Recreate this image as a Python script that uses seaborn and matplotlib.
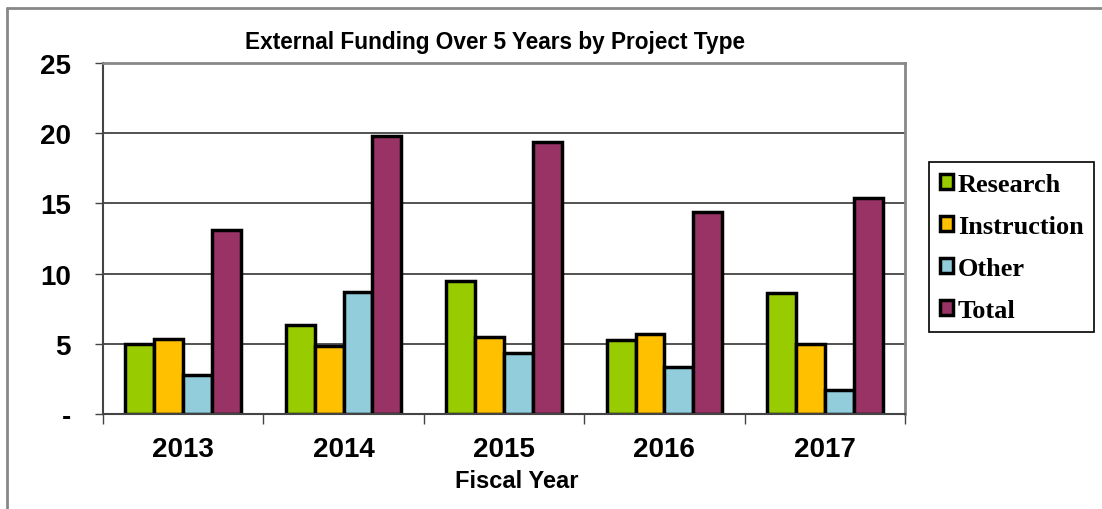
import pandas as pd
import matplotlib.pyplot as plt
import seaborn as sns
from matplotlib.lines import Line2D

# Chart data
years = ["2013", "2014", "2015", "2016", "2017"]
types = ["Research", "Instruction", "Other", "Total"]
research = [4.96, 6.32, 9.47, 5.30, 8.60]
instruction = [5.32, 4.82, 5.49, 5.70, 4.99]
other = [2.76, 8.67, 4.37, 3.35, 1.71]
total = [13.10, 19.83, 19.40, 14.37, 15.41]
colors = ["#99CC00", "#FFC000", "#92CDDC", "#993366"]
y_ticks = [0, 5, 10, 15, 20, 25]
y_labels = ["-", "5", "10", "15", "20", "25"]

df = pd.DataFrame({
    "Fiscal Year": years * 4,
    "Type": [t for t in types for _ in years],
    "Funding": research + instruction + other + total,
})

sns.set_style("white")
plt.rcParams["font.family"] = ["Liberation Sans", "DejaVu Sans"]
plt.rcParams["text.color"] = "black"
plt.rcParams["xtick.color"] = "black"
plt.rcParams["ytick.color"] = "black"

W, H = 1102, 510
fig = plt.figure(figsize=(W / 100, H / 100), dpi=100)
ax = fig.add_axes([103 / W, 1 - 415 / H, 802 / W, 351 / H])

sns.barplot(data=df, x="Fiscal Year", y="Funding", hue="Type",
            order=years, hue_order=types, palette=colors,
            width=0.72, edgecolor="black", linewidth=2.5, saturation=1,
            ax=ax)

ax.set_ylim(0, 25)
ax.set_xlim(-0.5, 4.5)
ax.set_yticks(y_ticks)
ax.set_yticklabels(y_labels)
ax.yaxis.grid(True, color="#444444", linewidth=1.3)
ax.set_axisbelow(True)
ax.set_xlabel("")
ax.set_ylabel("")

# category separator ticks on the x axis
ax.set_xticks([i - 0.5 for i in range(len(years) + 1)], minor=True)
ax.tick_params(axis="x", which="minor", bottom=True, length=7, width=1,
               color="#444444", direction="out")
ax.tick_params(axis="x", which="major", bottom=True, length=0, pad=16,
               labelcolor="black")
ax.tick_params(axis="y", left=True, length=6, width=1, color="#444444",
               direction="out", pad=17, labelcolor="black")
for lab in ax.get_xticklabels() + ax.get_yticklabels():
    lab.set_fontsize(20)
    lab.set_fontweight("bold")

for side in ["left", "bottom"]:
    ax.spines[side].set_color("#444444")
    ax.spines[side].set_linewidth(1.5)
for side in ["top", "right"]:
    ax.spines[side].set_color("#888888")
    ax.spines[side].set_linewidth(2)

fig.text(495 / W, 1 - 42 / H, "External Funding Over 5 Years by Project Type",
         ha="center", va="center", fontsize=16.3, fontweight="bold", color="black")
fig.text(517 / W, 1 - 482 / H, "Fiscal Year",
         ha="center", va="center", fontsize=17, fontweight="bold", color="black")

handles, labels = ax.get_legend_handles_labels()
leg = ax.legend(handles, labels, loc="upper left",
                bbox_to_anchor=(929 / W, 1 - 163 / H), bbox_transform=fig.transFigure,
                prop={"family": "Liberation Serif", "weight": "bold", "size": 19},
                frameon=True, fancybox=False, edgecolor="black", framealpha=1,
                handlelength=0.5, handleheight=0.5, handletextpad=0.2,
                labelspacing=0.72, borderpad=0.4, borderaxespad=0)
leg.get_frame().set_linewidth(1.2)
for t in leg.get_texts():
    t.set_color("black")

# outer chart-area border (left and top visible in the reference)
fig.add_artist(Line2D([7 / W, 7 / W], [0, 1 - 9 / H], transform=fig.transFigure,
                      color="#888888", linewidth=2))
fig.add_artist(Line2D([7 / W, 1], [1 - 9 / H, 1 - 9 / H], transform=fig.transFigure,
                      color="#888888", linewidth=2))

fig.savefig("out.png", dpi=100)
